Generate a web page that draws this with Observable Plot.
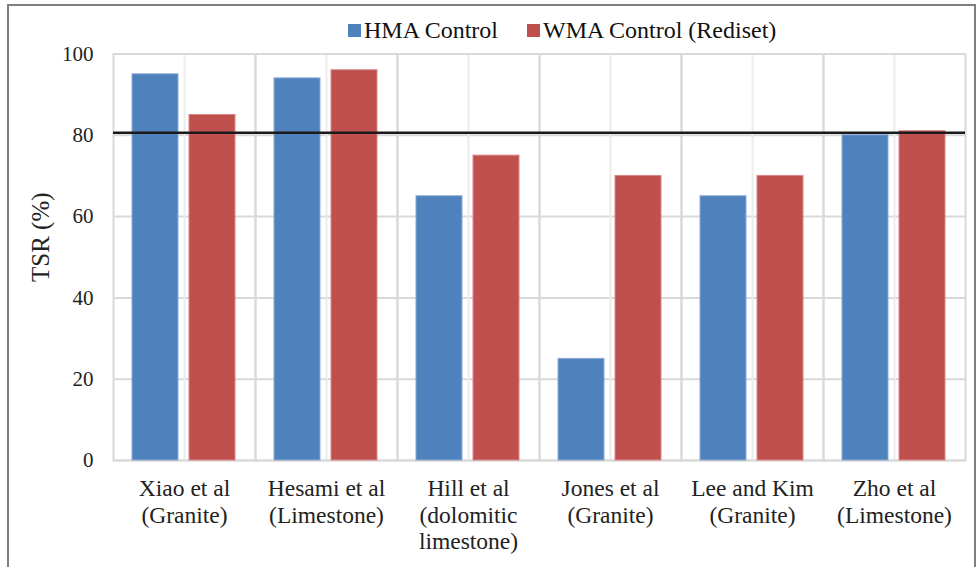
<!DOCTYPE html>
<html>
<head>
<meta charset="utf-8">
<script src="https://cdn.jsdelivr.net/npm/d3@7"></script>
<script src="https://cdn.jsdelivr.net/npm/@observablehq/plot@0.6"></script>
<style>
  html, body { margin: 0; padding: 0; background: #fff; }
  #wrap { position: relative; width: 977px; height: 567px; overflow: hidden; font-family: "Liberation Serif", "Times New Roman", serif; }
  #border { position: absolute; left: 7px; top: 4px; width: 965px; height: 700px; border: 2px solid #7f7f7f; pointer-events: none; box-sizing: content-box; z-index: 2; }
  #legend { position: relative; height: 30px; z-index: 1; }
  .item { position: absolute; top: 16px; display: flex; align-items: center; font-size: 24px; line-height: 28px; color: #111; white-space: nowrap; }
  .sw { width: 13px; height: 13px; margin-right: 3px; display: inline-block; }
  svg { display: block; }
</style>
</head>
<body>
<div id="wrap">
  <div id="border"></div>
  <div id="legend"></div>
  <div id="chart"></div>
</div>
<script>
const studies = [
  "Xiao et al\n(Granite)",
  "Hesami et al\n(Limestone)",
  "Hill et al\n(dolomitic\nlimestone)",
  "Jones et al\n(Granite)",
  "Lee and Kim\n(Granite)",
  "Zho et al\n(Limestone)"
];
const seriesNames = ["HMA Control", "WMA Control (Rediset)"];
const hmaValues = [95, 94, 65, 25, 65, 80];
const wmaValues = [85, 96, 75, 70, 70, 81];
const threshold = [80.6];
const yTicks = [0, 20, 40, 60, 80, 100];
const yLabel = "TSR (%)";
const colors = ["#4F81BD", "#C0504D"];
const edgeColors = ["#8aa9d3", "#d98785"];

const data = [];
studies.forEach((s, i) => {
  data.push({study: s, series: seriesNames[0], value: hmaValues[i]});
  data.push({study: s, series: seriesNames[1], value: wmaValues[i]});
});

// legend
const legend = document.getElementById("legend");
const legendLeft = [348, 527];
seriesNames.forEach((name, i) => {
  const it = document.createElement("div");
  it.className = "item";
  it.style.left = legendLeft[i] + "px";
  const sw = document.createElement("span");
  sw.className = "sw";
  sw.style.background = colors[i];
  it.appendChild(sw);
  it.appendChild(document.createTextNode(name));
  legend.appendChild(it);
});

const chart = Plot.plot({
  width: 977,
  height: 537,
  marginLeft: 111,
  marginRight: 10,
  marginTop: 23.5,
  marginBottom: 107,
  style: {fontFamily: "'Liberation Serif', 'Times New Roman', serif", color: "#222", background: "transparent", overflow: "visible"},
  fx: {domain: studies, paddingInner: 0, paddingOuter: 0, label: null},
  x: {domain: seriesNames, paddingInner: 0.19, paddingOuter: 0.33, axis: null},
  y: {domain: [0, 100], label: yLabel},
  color: {domain: seriesNames, range: colors},
  marks: [
    Plot.gridY(yTicks, {stroke: "#d9d9d9", strokeOpacity: 1, strokeWidth: 2}),
    Plot.ruleX([0], {x: null, stroke: "#ececec", strokeWidth: 2}),
    Plot.frame({stroke: "#d9d9d9", strokeWidth: 2}),
    Plot.barY(data, {
      fx: "study", x: "series", y: "value",
      fill: "series",
      stroke: d => edgeColors[seriesNames.indexOf(d.series)],
      strokeWidth: 1
    }),
    Plot.ruleY(threshold, {stroke: "#1a1a1a", strokeWidth: 2.5}),
    Plot.axisY({
      ticks: yTicks, tickSize: 0, tickPadding: 20, fontSize: 21, label: null
    }),
    Plot.axisY({
      ticks: [], tickSize: 0, fontSize: 25,
      label: yLabel, labelAnchor: "center", labelOffset: 82, labelArrow: "none"
    }),
    Plot.axisFx({
      anchor: "bottom", tickSize: 0, tickPadding: 17, fontSize: 23.5, lineHeight: 1.13, label: null
    })
  ]
});
document.getElementById("chart").appendChild(chart);

// the reference's axis title sits a little above the plot's middle
chart.querySelectorAll('g[aria-label="y-axis label"] text').forEach(t => {
  const tr = t.getAttribute("transform") || "";
  t.setAttribute("transform", tr + " translate(20,0)");
});
</script>
</body>
</html>
